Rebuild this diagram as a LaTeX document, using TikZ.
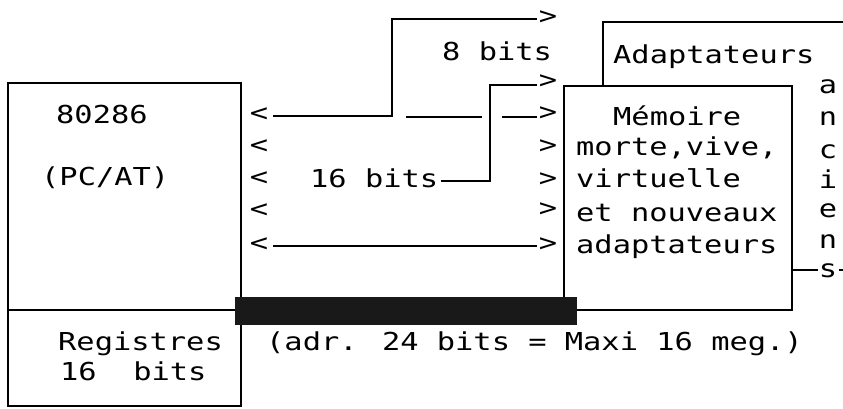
\documentclass[tikz,border=0pt]{standalone}
\usepackage{fontspec}
\newfontfamily\dm[FakeStretch=1.23]{DejaVu Sans Mono}
\begin{document}
\begin{tikzpicture}[x=1pt,y=-1pt,
  txt/.style={font=\dm\fontsize{24.7}{24.7}\selectfont, anchor=base west, inner sep=0pt},
  arr/.style={font=\dm\fontsize{24.7}{24.7}\selectfont, anchor=center, inner sep=0pt},
  ln/.style={line width=1.4pt, line cap=rect},
  wire/.style={line width=1.4pt, shorten <=5pt, shorten >=2pt}]
\useasboundingbox (0,0) rectangle (843,408);

% boxes
\draw[ln] (8,83) rectangle (241,406);
\coordinate (divL) at (8,310);
\coordinate (divR) at (792,310);
\draw[ln] (divL) -- (divR);
\coordinate (memBL) at (564,310);
\coordinate (memTL) at (564,86);
\coordinate (memTR) at (792,86);
\draw[ln] (memBL) -- (memTL) -- (memTR) -- (divR);
\coordinate (adBL) at (603,86);
\coordinate (adTL) at (603,22);
\coordinate (adTR) at (843,22);
\draw[ln] (adBL) -- (adTL) -- (adTR);

% texts
\node[txt] (t8) at (442,60) {8 bits};
\node[txt] (tad) at (613,63) {Adaptateurs};
\node[txt] (t80286) at (56,123) {80286};
\node[txt] (tpc) at (41,185) {(PC/AT)};
\node[txt] (tmem) at (613,125) {Mémoire};
\node[txt] (tmo) at (576,155) {morte,vive,};
\node[txt] (tvi) at (576,187) {virtuelle};
\node[txt] (tet) at (576,221) {et nouveaux};
\node[txt] (tada) at (576,253) {adaptateurs};
\node[txt] (t16) at (310,187) {16 bits};
\node[txt] (treg) at (58,350) {Registres};
\node[txt] (t16b) at (60,380) {16\ \ bits};
\node[txt] (tadr) at (266,350) {(adr. 24 bits = Maxi 16 meg.)};

% anciens
\node[arr, anchor=base] (ca) at (828,93) {a};
\node[arr, anchor=base] (cn1) at (828,125) {n};
\node[arr, anchor=base] (cc) at (828,158) {c};
\node[arr, anchor=base] (ci) at (828,188) {i};
\node[arr, anchor=base] (ce) at (828,217) {e};
\node[arr, anchor=base] (cn2) at (828,248) {n};
\node[arr, anchor=base] (cs) at (828,277) {s};
\coordinate (sL) at (792,270);
\coordinate (sR) at (843,270);
\draw[ln, shorten >=1pt] (sL) -- (cs.west |- sL);
\draw[line width=1.4pt, shorten <=2pt] (cs.east |- sR) -- (sR);

% arrow heads (characters)
\node[arr] (L3) at (259,115) {<};
\node[arr] (L4) at (259,147) {<};
\node[arr] (L5) at (259,179) {<};
\node[arr] (L6) at (259,211) {<};
\node[arr] (L7) at (259,245) {<};
\node[arr] (G0) at (548,18) {>};
\node[arr] (G2) at (548,82) {>};
\node[arr] (G3) at (548,114) {>};
\node[arr] (G4) at (548,147) {>};
\node[arr] (G5) at (548,180) {>};
\node[arr] (G6) at (548,210) {>};
\node[arr] (G7) at (548,245) {>};

% connectors
\coordinate (a1) at (392,116);
\coordinate (a2) at (392,19);
\draw[wire] (L3.east |- a1) -- (a1) -- (a2) -- (G0.west |- a2);
\coordinate (b1) at (406,117);
\coordinate (b2) at (482,117);
\coordinate (b3) at (502,117);
\draw[ln, line cap=butt] (b1) -- (b2);
\draw[wire, shorten <=0pt] (b3) -- (G3.west |- b3);
\coordinate (c1) at (490,181);
\coordinate (c2) at (490,85);
\draw[wire, shorten <=3pt] (t16.east |- c1) -- (c1) -- (c2) -- (G2.west |- c2);
\coordinate (d1) at (400,246);
\draw[wire] (L7.east |- d1) -- (G7.west |- d1);

% dark bar
\fill[black!90] (235,297) rectangle (577,325);
\end{tikzpicture}
\end{document}
